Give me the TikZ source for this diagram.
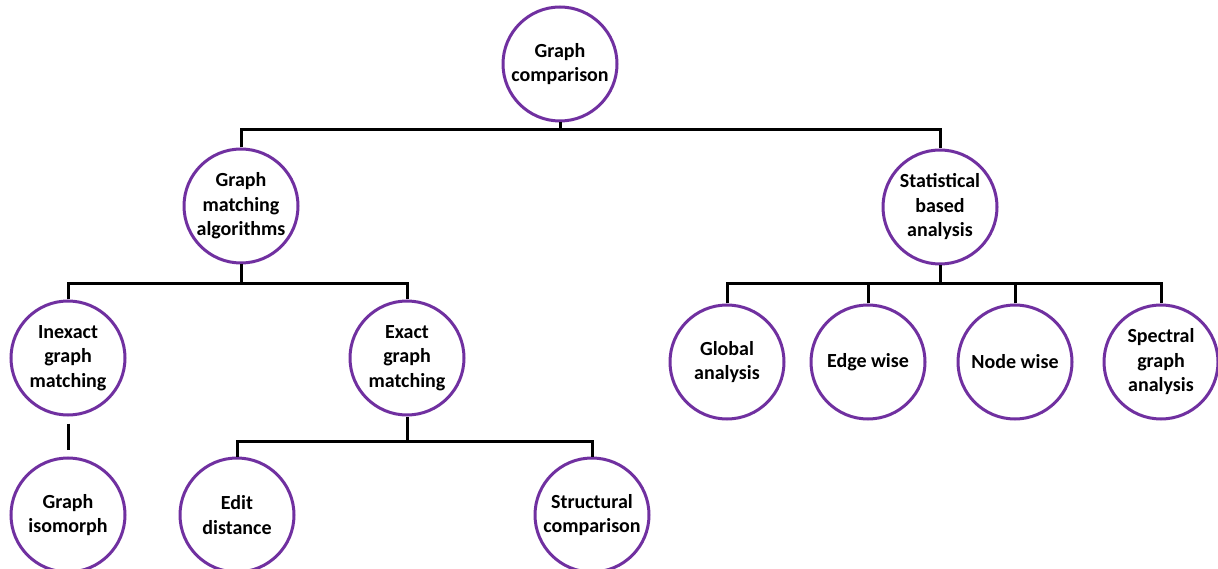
\documentclass[tikz,border=0pt]{standalone}
\usepackage{fontspec}
\setmainfont{Carlito}
\usepackage{xcolor}
\definecolor{grape}{HTML}{7030A0}

\begin{document}
\begin{tikzpicture}[x=1pt,y=-1pt,line width=3pt]
			\tikzstyle{topic}=[circle,draw=grape,line width=3pt,fill=white,text=black,minimum size=114pt,inner sep=0pt,align=center,font=\fontsize{20}{24.5}\selectfont\bfseries]
			\tikzstyle{branch}=[draw=black,line width=3pt]
			\useasboundingbox (0,0) rectangle (1218,569);
			\node[topic]    (GC) at (560,64)   {Graph\\comparison};
			\node[topic]    (GM) at (241,206)  {Graph\\matching\\algorithms};
			\node[topic]    (SA) at (940,207)  {Statistical\\based\\analysis};
			\node[topic]    (IM) at (68,358)   {Inexact\\graph\\matching};
			\node[topic]    (EM) at (407,358)  {Exact\\graph\\matching};
			\node[topic]    (GA) at (727,362)  {Global\\analysis};
			\node[topic]    (EW) at (868,362)  {Edge wise};
			\node[topic]    (NW) at (1015,362) {Node wise};
			\node[topic]    (SG) at (1161,362) {Spectral\\graph\\analysis};
			\node[topic]    (GI) at (68,515)   {Graph\\isomorph};
			\node[topic]    (ED) at (237,515)  {Edit\\distance};
			\node[topic]    (SC) at (592,515)  {Structural\\comparison};
			% bars
			\coordinate (Bt) at (560,130);
			\coordinate (Bl) at (241,284);
			\coordinate (Br) at (940,284);
			\coordinate (Be) at (407,441);
			\path[branch]
			(GC.south) edge (Bt)
			(GM.south) edge (Bl)
			(SA.south) edge (Br)
			(EM.south) edge (Be)
			(IM.south) edge[shorten <=7pt,shorten >=7pt] (GI.north);
			\draw[branch] (GM.north) |- (Bt) -| (SA.north);
			\draw[branch] (IM.north) |- (Bl) -| (EM.north);
			\draw[branch] (ED.north) |- (Be) -| (SC.north);
			\draw[branch] (GA.north) |- (Br) -| (SG.north);
			\draw[branch] (EW.north) -- (EW.north |- Br);
			\draw[branch] (NW.north) -- (NW.north |- Br);
		\end{tikzpicture}
\end{document}
